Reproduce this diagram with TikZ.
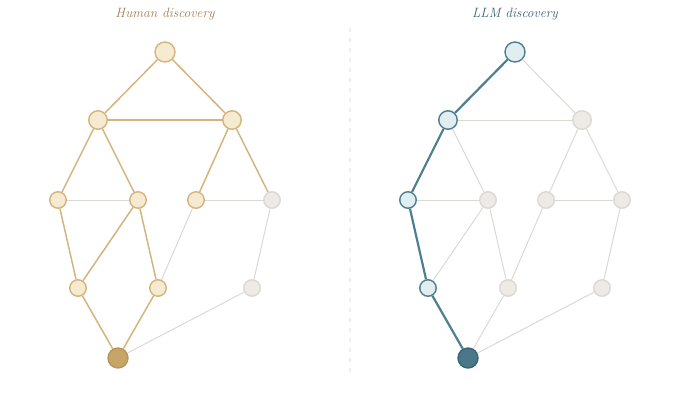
\documentclass[tikz,border=0pt]{standalone}
\usepackage{xcolor}
\usepackage{tikz}

\definecolor{tanline}{HTML}{D3B47D}
\definecolor{tanfill}{HTML}{F6EBD0}
\definecolor{tangoal}{HTML}{C6A567}
\definecolor{tangoalline}{HTML}{B8955A}
\definecolor{tantext}{HTML}{A07F4E}
\definecolor{greyline}{HTML}{DCD9D4}
\definecolor{greyfill}{HTML}{EEEBE7}
\definecolor{blueline}{HTML}{4F7F8E}
\definecolor{bluefill}{HTML}{E0EEF2}
\definecolor{bluegoal}{HTML}{4A7888}
\definecolor{bluegoalline}{HTML}{3A6474}
\definecolor{bluetext}{HTML}{3E6171}

\begin{document}
\begin{tikzpicture}[x=1pt, y=-1pt,
  dot/.style={circle, inner sep=0pt, line width=1.4pt, minimum size=16.5pt},
  big/.style={minimum size=18.5pt},
  top/.style={minimum size=20pt},
  tan/.style={dot, draw=tanline, fill=tanfill},
  grey/.style={dot, draw=greyline, fill=greyfill},
  blue/.style={dot, draw=blueline, fill=bluefill},
  tanedge/.style={draw=tanline, line width=1.5pt},
  greyedge/.style={draw=greyline, line width=1pt},
  blueedge/.style={draw=blueline, line width=2.2pt},
  title/.style={font=\itshape\fontsize{13.5}{15}\selectfont}]
  \useasboundingbox (0,0) rectangle (700,400);

  % human discovery
  \node[title, text=tantext] (HT) at (165,14) {Human discovery};
  \node (H1) at (165,52) [tan, top] {};
  \node (H2) at (98,120) [tan, big] {};
  \node (H3) at (232,120) [tan, big] {};
  \node (H4) at (58,200) [tan] {};
  \node (H5) at (138,200) [tan] {};
  \node (H6) at (196,200) [tan] {};
  \node (H7) at (272,200) [grey] {};
  \node (H8) at (78,288) [tan] {};
  \node (H9) at (158,288) [tan] {};
  \node (H10) at (252,288) [grey] {};
  \node (H11) at (118,358) [dot, top, draw=tangoalline, fill=tangoal] {};
  \draw[greyedge] (H4) to (H5);
  \draw[greyedge] (H6) to (H7);
  \draw[greyedge] (H6) to (H9);
  \draw[greyedge] (H7) to (H10);
  \draw[greyedge] (H10) to (H11);
  \draw[tanedge] (H1) to (H2);
  \draw[tanedge] (H1) to (H3);
  \draw[tanedge] (H2) to (H3);
  \draw[tanedge] (H2) to (H4);
  \draw[tanedge] (H2) to (H5);
  \draw[tanedge] (H3) to (H6);
  \draw[tanedge] (H3) to (H7);
  \draw[tanedge] (H4) to (H8);
  \draw[tanedge] (H5) to (H8);
  \draw[tanedge] (H5) to (H9);
  \draw[tanedge] (H8) to (H11);
  \draw[tanedge] (H9) to (H11);

  % divider
  \coordinate (D1) at (350,28);
  \coordinate (D2) at (350,372);
  \draw[black!7, line width=1.2pt, dash pattern=on 4pt off 6pt] (D1) -- (D2);

  % LLM discovery
  \node[title, text=bluetext] (LT) at (515,14) {LLM discovery};
  \node (L1) at (515,52) [blue, top] {};
  \node (L2) at (448,120) [blue, big] {};
  \node (L3) at (582,120) [grey, big] {};
  \node (L4) at (408,200) [blue] {};
  \node (L5) at (488,200) [grey] {};
  \node (L6) at (546,200) [grey] {};
  \node (L7) at (622,200) [grey] {};
  \node (L8) at (428,288) [blue] {};
  \node (L9) at (508,288) [grey] {};
  \node (L10) at (602,288) [grey] {};
  \node (L11) at (468,358) [dot, top, draw=bluegoalline, fill=bluegoal] {};
  \draw[greyedge] (L1) to (L3);
  \draw[greyedge] (L2) to (L3);
  \draw[greyedge] (L2) to (L5);
  \draw[greyedge] (L3) to (L6);
  \draw[greyedge] (L3) to (L7);
  \draw[greyedge] (L4) to (L5);
  \draw[greyedge] (L6) to (L7);
  \draw[greyedge] (L5) to (L8);
  \draw[greyedge] (L5) to (L9);
  \draw[greyedge] (L6) to (L9);
  \draw[greyedge] (L7) to (L10);
  \draw[greyedge] (L9) to (L11);
  \draw[greyedge] (L10) to (L11);
  \draw[blueedge] (L1) to (L2);
  \draw[blueedge] (L2) to (L4);
  \draw[blueedge] (L4) to (L8);
  \draw[blueedge] (L8) to (L11);
\end{tikzpicture}
\end{document}
